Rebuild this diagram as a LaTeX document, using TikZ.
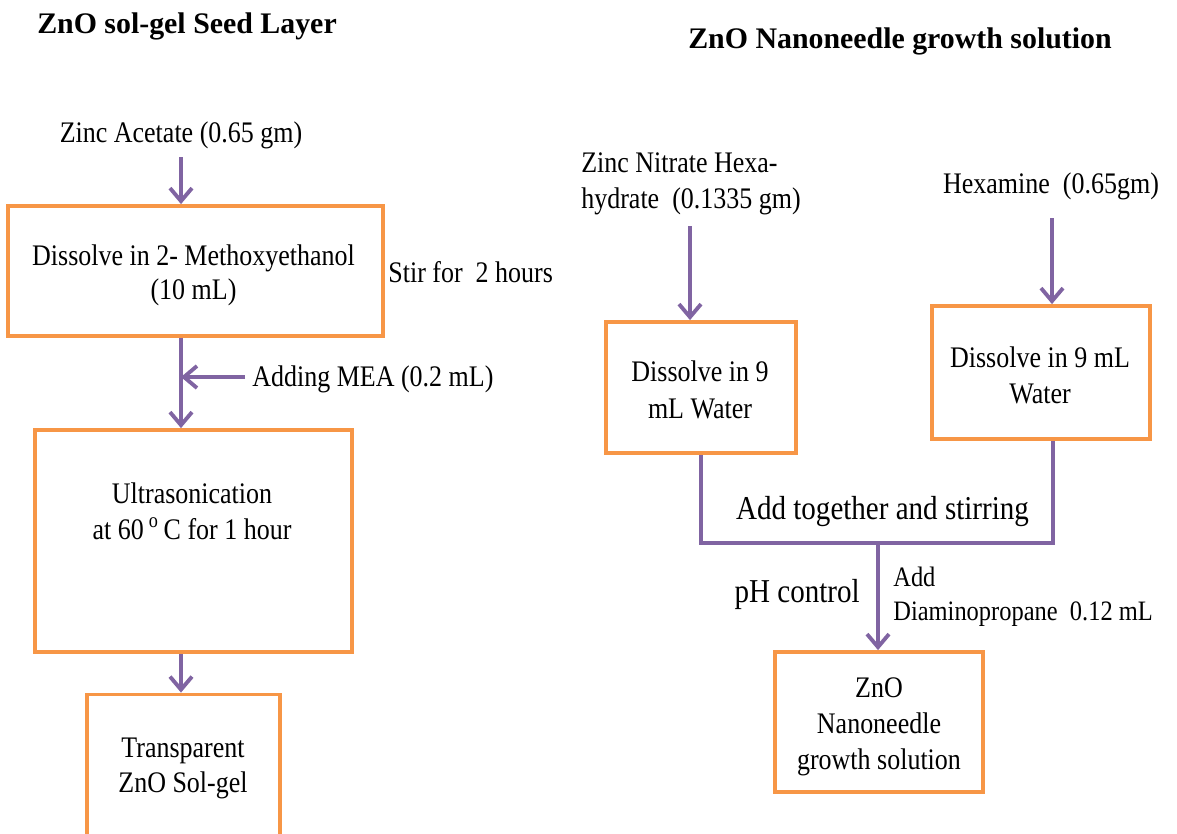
\documentclass[tikz,border=0pt]{standalone}
\usepackage{fontspec}
\setmainfont{Liberation Serif}[FakeStretch=0.87]
\newfontfamily\ttlfont{Liberation Serif}
\usetikzlibrary{arrows.meta}

\definecolor{boxorange}{HTML}{F79646}
\definecolor{flowpurple}{HTML}{8064A2}

\begin{document}
\begin{tikzpicture}[x=0.02cm,y=-0.02cm,
    box/.style={draw=boxorange,line width=2.2pt,inner sep=0pt},
    txt/.style={inner sep=0pt,font=\fontsize{17}{20}\selectfont},
    bigtxt/.style={inner sep=0pt,font=\fontsize{19}{22}\selectfont},
    smalltxt/.style={inner sep=0pt,font=\fontsize{16}{19}\selectfont},
    ttl/.style={inner sep=0pt,font=\ttlfont\fontsize{17}{20}\selectfont\bfseries},
    link/.style={draw=flowpurple,line width=2.2pt},
    flow/.style={link,-{Straight Barb[length=2.6mm,width=4.4mm]}}]
  \useasboundingbox (0,0) rectangle (1177,833);

  % seed layer
  \coordinate (colL) at (181,0);
  \coordinate (zincA) at (181,157);
  \coordinate (meaA) at (245,377);

  \node[ttl,anchor=base] (ttlL) at (187,33) {ZnO sol-gel Seed Layer};
  \node[txt,anchor=base] (zinc) at (181,142) {Zinc Acetate (0.65 gm)};

  \node[box,minimum width=7.5cm,minimum height=2.6cm] (B1) at (195.5,271) {};
  \node[txt,anchor=base] (B1a) at (193.5,265) {Dissolve in 2- Methoxyethanol};
  \node[txt,anchor=base] (B1b) at (193.5,299) {(10 mL)};
  \node[txt,anchor=base west] (stir) at (388,282) {Stir for\ \ 2 hours};

  \node[txt,anchor=base west] (mea) at (252,386) {Adding MEA (0.2 mL)};

  \node[box,minimum width=6.34cm,minimum height=4.44cm] (B2) at (193.5,541) {};
  \node[txt,anchor=base] (B2a) at (192,503) {Ultrasonication};
  \node[txt,anchor=base] (B2b) at (192,539) {at 60\,\textsuperscript{o}\,C for 1 hour};

  \node[box,minimum width=3.86cm,minimum height=3.3cm] (B3) at (183.5,777) {};
  \node[txt,anchor=base] (B3a) at (183,757) {Transparent};
  \node[txt,anchor=base] (B3b) at (183,792) {ZnO Sol-gel};

  \draw[flow] (zincA) -- (zincA |- B1.north);
  \draw[flow] (B1.south -| colL) -- (B2.north -| colL);
  \draw[flow] (meaA) -- (colL |- meaA);
  \draw[flow] (B2.south -| colL) -- (B3.north -| colL);

  % growth solution
  \coordinate (nitA) at (690,226);
  \coordinate (hexA) at (1052,218);
  \coordinate (jl) at (701,543);
  \coordinate (jr) at (1053,543);
  \coordinate (jm) at (878,543);

  \node[ttl,anchor=base] (ttlR) at (900,48) {ZnO Nanoneedle growth solution};
  \node[txt,anchor=base west] (nit1) at (581,172) {Zinc Nitrate Hexa-};
  \node[txt,anchor=base west] (nit2) at (581,208) {hydrate\ \ (0.1335 gm)};
  \node[txt,anchor=base] (hexa) at (1051,193) {Hexamine\ \ (0.65gm)};

  \node[box,minimum width=3.8cm,minimum height=2.62cm] (B4) at (701,387.5) {};
  \node[txt,anchor=base] (B4a) at (700,381) {Dissolve in 9};
  \node[txt,anchor=base] (B4b) at (700,418) {mL Water};

  \node[box,minimum width=4.36cm,minimum height=2.66cm] (B5) at (1041,372.5) {};
  \node[txt,anchor=base] (B5a) at (1040,367) {Dissolve in 9 mL};
  \node[txt,anchor=base] (B5b) at (1040,403) {Water};

  \node[bigtxt,anchor=base] (mix) at (882.5,519) {Add together and stirring};
  \node[bigtxt,anchor=base east] (ph) at (860,602) {pH control};
  \node[smalltxt,anchor=base west] (dap1) at (893,586) {Add};
  \node[smalltxt,anchor=base west] (dap2) at (893,620) {Diaminopropane\ \ 0.12 mL};

  \node[box,minimum width=4.16cm,minimum height=2.8cm] (B6) at (879,722) {};
  \node[txt,anchor=base] (B6a) at (879,697) {ZnO};
  \node[txt,anchor=base] (B6b) at (879,733) {Nanoneedle};
  \node[txt,anchor=base] (B6c) at (879,769) {growth solution};

  \draw[flow] (nitA) -- (nitA |- B4.north);
  \draw[flow] (hexA) -- (hexA |- B5.north);
  \draw[link] (B4.south -| jl) -- (jl) -- (jr) -- (B5.south -| jr);
  \draw[flow] (jm) -- (jm |- B6.north);
\end{tikzpicture}
\end{document}
